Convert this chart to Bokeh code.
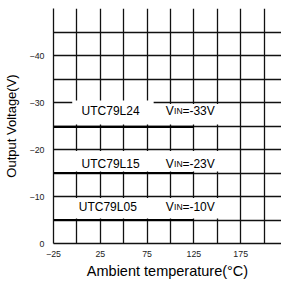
from bokeh.plotting import figure
from bokeh.models import Range1d, FixedTicker
from bokeh.core.properties import value
from bokeh.embed import file_html
from bokeh.resources import INLINE

# ---- data ----
temperature = [-25, 125]
vout_l24 = [-24.8, -24.8]
vout_l15 = [-15.0, -15.0]
vout_l05 = [-5.0, -5.0]
device_names = ["UTC79L24", "UTC79L15", "UTC79L05"]
vin_texts = ["=-33V", "=-23V", "=-10V"]

x_grid_ticks = [-25, 0, 25, 50, 75, 100, 125, 150, 175, 200]
x_label_ticks = [-25, 25, 75, 125, 175]
y_grid_ticks = [0, -5, -10, -15, -20, -25, -30, -35, -40, -45, -50]
y_label_ticks = [0, -10, -20, -30, -40]

# ---- layout constants (label placement) ----
name_x = [5, 5, 2]
vin_x = [95, 95, 95]
label_y = [-28.3, -17.0, -7.9]
box_left = [-5, 82, -5, -5]
box_right = [82, 165, 165, 165]
box_top = [-30.4, -29.7, -19.7, -9.7]
box_bottom = [-25.3, -25.3, -15.3, -5.3]

FONT = "Liberation Sans"
TEXT_DY = 0.8

p = figure(width=281, height=282, output_backend="svg", toolbar_location=None,
           x_range=Range1d(-25, 218.6), y_range=Range1d(0, -50),
           min_border_left=52, min_border_right=0, min_border_top=8,
           min_border_bottom=39)
p.outline_line_color = None
p.background_fill_color = "white"
p.border_fill_color = "white"

for ax in (p.xaxis[0], p.yaxis[0]):
    ax.major_tick_in = 0
    ax.major_tick_out = 0
    ax.minor_tick_in = 0
    ax.minor_tick_out = 0
    ax.axis_line_color = "#111111"
    ax.axis_line_width = 1.3
    ax.major_label_text_font = FONT
    ax.major_label_text_font_size = "8.8px"
    ax.major_label_text_color = "#222222"
    ax.axis_label_text_font = FONT
    ax.axis_label_text_font_style = "normal"
    ax.axis_label_text_color = "black"

p.xaxis.ticker = FixedTicker(ticks=x_label_ticks)
p.yaxis.ticker = FixedTicker(ticks=y_label_ticks)
p.xaxis.major_label_standoff = 7
p.yaxis.major_label_standoff = 9
p.xaxis.axis_label = "Ambient temperature(°C)"
p.yaxis.axis_label = "Output Voltage(V)"
p.xaxis.axis_label_text_font_size = "14.5px"
p.yaxis.axis_label_text_font_size = "13px"
p.xaxis.axis_label_standoff = 3
p.yaxis.axis_label_standoff = 8

p.xgrid[0].ticker = FixedTicker(ticks=x_grid_ticks)
p.ygrid[0].ticker = FixedTicker(ticks=y_grid_ticks)
for g in (p.xgrid[0], p.ygrid[0]):
    g.grid_line_color = "#111111"
    g.grid_line_width = 1.3
    g.grid_line_alpha = 1.0

# white label boxes hiding the grid
p.quad(left=box_left, right=box_right, top=box_top, bottom=box_bottom,
       fill_color="white", line_color=None)

# output voltage lines
for vals in (vout_l24, vout_l15, vout_l05):
    p.line(temperature, vals, line_color="black", line_width=2.2)

# labels
p.text(x=name_x, y=label_y, text=device_names, text_font=value(FONT),
       text_font_size="12px", text_baseline="alphabetic", text_align="left",
       y_offset=TEXT_DY, text_color="black")
p.text(x=vin_x, y=label_y, text=["V"] * 3, text_font=value(FONT),
       text_font_size="12px", text_baseline="alphabetic", text_align="left",
       y_offset=TEXT_DY, text_color="black")
p.text(x=vin_x, y=label_y, text=["IN"] * 3, text_font=value(FONT),
       text_font_size="8.5px", text_baseline="alphabetic", text_align="left",
       x_offset=8.2, y_offset=TEXT_DY, text_color="black")
p.text(x=vin_x, y=label_y, text=vin_texts, text_font=value(FONT),
       text_font_size="12px", text_baseline="alphabetic", text_align="left",
       x_offset=16.6, y_offset=TEXT_DY, text_color="black")

open("out.html", "w").write(file_html(p, INLINE))
